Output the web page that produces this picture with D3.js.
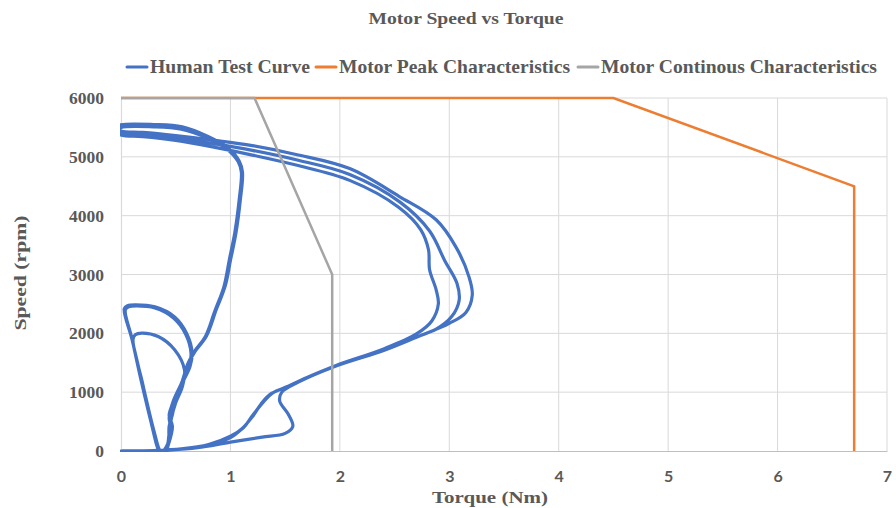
<!DOCTYPE html>
<html><head><meta charset="utf-8">
<script src="https://cdn.jsdelivr.net/npm/d3@7"></script>
<style>body{margin:0;background:#fff}svg{display:block}</style>
</head><body><svg id="chart" width="896" height="508"></svg>
<script>
const chartTitle = "Motor Speed vs Torque";
const xTitle = "Torque (Nm)";
const yTitle = "Speed (rpm)";
const xTicks = [0, 1, 2, 3, 4, 5, 6, 7];
const yTicks = [0, 1000, 2000, 3000, 4000, 5000, 6000];
const seriesNames = ["Human Test Curve", "Motor Peak Characteristics", "Motor Continous Characteristics"];
const seriesColors = ["#4472C4", "#ED7D31", "#A5A5A5"];

const peakCurve = [[0, 6000], [4.5, 6000], [6.7, 4500], [6.7, 0]];
const contCurve = [[0, 6000], [1.22, 6000], [1.93, 3000], [1.93, 0]];

// Human test curve: [torque, speed] in time order
const humanCurve = [
  // cycle 1 (outer)
  [0, 0], [0.2, 0], [0.45, 15], [0.7, 55], [1.0, 150], [1.29, 235], [1.5, 300], [1.57, 420],
  [1.53, 620], [1.45, 850], [1.47, 1000], [1.62, 1170], [1.93, 1420], [2.4, 1710], [2.7, 1935],
  [3.0, 2170], [3.15, 2350], [3.21, 2650], [3.18, 2960], [3.06, 3470], [2.88, 3930], [2.54, 4330],
  [2.09, 4800], [1.6, 5040], [1.2, 5190], [0.86, 5280], [0.5, 5360], [0.2, 5415], [0, 5440],
  [-0.05, 5500], [0, 5545], [0.3, 5550], [0.56, 5510], [0.79, 5350], [0.97, 5160], [1.07, 4950], [1.1, 4750],
  [1.08, 4270], [1.04, 3710], [0.99, 3250], [0.95, 2800], [0.87, 2400], [0.78, 1950], [0.68, 1700],
  [0.62, 1500], [0.57, 1200], [0.5, 900], [0.46, 600], [0.45, 350], [0.42, 80], [0.4, 0], [0.2, 0],
  // cycle 2 (middle)
  [0, 0], [0.3, 5], [0.55, 30], [0.8, 100], [1.0, 230], [1.1, 370], [1.2, 580], [1.28, 800],
  [1.36, 960], [1.5, 1080], [1.7, 1250], [1.95, 1440], [2.4, 1725], [2.72, 1950], [2.88, 2070],
  [3.02, 2280], [3.09, 2560], [3.07, 2850], [2.96, 3230], [2.82, 3740], [2.55, 4230], [2.09, 4700],
  [1.6, 4950], [1.2, 5110], [0.86, 5220], [0.5, 5320], [0.2, 5380], [0, 5405],
  [-0.05, 5470], [0, 5525], [0.3, 5530], [0.56, 5490], [0.8, 5330], [0.98, 5140], [1.08, 4930], [1.11, 4740],
  [1.09, 4260], [1.05, 3700], [1.0, 3240], [0.95, 2790], [0.86, 2390], [0.77, 1940], [0.67, 1690],
  [0.61, 1480], [0.56, 1190], [0.49, 880], [0.44, 610], [0.47, 420], [0.43, 90], [0.41, 0], [0.2, 0],
  // cycle 3 (inner)
  [0, 0], [0.3, 8], [0.55, 35], [0.8, 110], [1.0, 250], [1.12, 400], [1.2, 600], [1.3, 830],
  [1.38, 980], [1.52, 1095], [1.72, 1265], [1.96, 1450], [2.4, 1735], [2.7, 1990], [2.84, 2210],
  [2.9, 2500], [2.88, 2740], [2.82, 3080], [2.81, 3420], [2.74, 3760], [2.54, 4140], [2.09, 4600],
  [1.6, 4860], [1.2, 5030], [0.86, 5160], [0.5, 5280], [0.2, 5345], [0, 5370],
  [-0.05, 5440], [0, 5500], [0.3, 5510], [0.55, 5470], [0.79, 5320], [0.97, 5130], [1.07, 4920], [1.1, 4740],
  [1.08, 4260], [1.04, 3710], [0.99, 3250], [0.94, 2790], [0.86, 2390], [0.77, 1940], [0.67, 1690],
  [0.62, 1480], [0.57, 1190], [0.5, 880], [0.47, 620], [0.44, 420], [0.43, 90], [0.38, 0],
  // left loop (outer, twice)
  [0.36, 0], [0.3, 350], [0.2, 1120], [0.1, 1900], [0.03, 2420], [0.06, 2470], [0.13, 2485],
  [0.31, 2450], [0.49, 2280], [0.6, 2000], [0.65, 1670], [0.63, 1430], [0.56, 1156], [0.49, 870],
  [0.45, 580], [0.45, 357], [0.42, 68], [0.38, 0],
  [0.35, 0], [0.29, 380], [0.19, 1150], [0.1, 1910], [0.04, 2400], [0.07, 2450], [0.14, 2465],
  [0.31, 2430], [0.48, 2260], [0.59, 1990], [0.64, 1660], [0.62, 1420], [0.55, 1140], [0.48, 860],
  [0.44, 560], [0.46, 340], [0.41, 60], [0.38, 0],
  // left loop (inner)
  [0.35, 0], [0.29, 370], [0.2, 1130], [0.11, 1900], [0.13, 1975], [0.19, 2005], [0.34, 1945],
  [0.49, 1720], [0.58, 1380], [0.56, 1090], [0.5, 820], [0.46, 550], [0.44, 300], [0.42, 50],
  [0.4, 0], [0.1, 0], [0, 0]
];

const W = 896, H = 508;
const plot = {left: 121, right: 887, top: 98, bottom: 451};
const svg = d3.select("#chart");
const textColor = "#595959";
const serif = "'Liberation Serif', 'Times New Roman', serif";

const x = d3.scaleLinear().domain([0, 7]).range([plot.left, plot.right]);
const y = d3.scaleLinear().domain([0, 6000]).range([plot.bottom, plot.top]);

svg.append("defs").append("clipPath").attr("id", "clip").append("rect")
  .attr("x", plot.left - 1).attr("y", plot.top - 3).attr("width", plot.right - plot.left + 4)
  .attr("height", plot.bottom - plot.top + 4);

// gridlines
const grid = svg.append("g");
grid.selectAll(".gx").data(xTicks.slice(1)).join("line")
  .attr("x1", d => x(d)).attr("x2", d => x(d)).attr("y1", plot.top).attr("y2", plot.bottom)
  .attr("stroke", "#d9d9d9").attr("stroke-width", 1);
grid.selectAll(".gy").data(yTicks.slice(1)).join("line")
  .attr("x1", plot.left).attr("x2", plot.right).attr("y1", d => y(d)).attr("y2", d => y(d))
  .attr("stroke", "#d9d9d9").attr("stroke-width", 1);

// axes
const xAxis = svg.append("g").attr("transform", `translate(0,${plot.bottom})`)
  .call(d3.axisBottom(x).tickValues(xTicks).tickSize(0).tickPadding(20).tickFormat(d3.format("d")));
xAxis.select(".domain").attr("stroke", "#bfbfbf").attr("stroke-width", 1.2);
xAxis.selectAll("text").attr("fill", textColor).style("font-family", "Lato, 'Open Sans', sans-serif")
  .style("font-weight", "bold").style("font-size", "16px");

const yAxis = svg.append("g").attr("transform", `translate(${plot.left},0)`)
  .call(d3.axisLeft(y).tickValues(yTicks).tickSize(0).tickPadding(17).tickFormat(d3.format("d")));
yAxis.select(".domain").attr("stroke", "#d9d9d9").attr("stroke-width", 1.2);
yAxis.selectAll("text").attr("fill", textColor).style("font-family", serif)
  .style("font-weight", "bold").style("font-size", "17.5px");

// series
const line = d3.line().x(d => x(d[0])).y(d => y(d[1]));
svg.append("path").datum(humanCurve).attr("clip-path", "url(#clip)")
  .attr("d", line.curve(d3.curveCatmullRom.alpha(0.5)))
  .attr("fill", "none").attr("stroke", seriesColors[0]).attr("stroke-width", 3.2)
  .attr("stroke-linejoin", "round").attr("stroke-linecap", "round");
const straight = d3.line().x(d => x(d[0])).y(d => y(d[1]));
svg.append("path").datum(peakCurve).attr("d", straight)
  .attr("fill", "none").attr("stroke", seriesColors[1]).attr("stroke-width", 2.5);
svg.append("path").datum(contCurve).attr("d", straight)
  .attr("fill", "none").attr("stroke", seriesColors[2]).attr("stroke-width", 2.5);

// title
svg.append("text").attr("x", 466).attr("y", 24).attr("text-anchor", "middle")
  .attr("fill", textColor).style("font-family", serif).style("font-weight", "bold")
  .style("font-size", "17px").attr("textLength", 195).attr("lengthAdjust", "spacingAndGlyphs")
  .text(chartTitle);

// legend
const legendX = [127, 316, 578];
const legendW = [160, 231, 276];
const lg = svg.append("g");
seriesNames.forEach((name, i) => {
  lg.append("line").attr("x1", legendX[i]).attr("x2", legendX[i] + 20).attr("y1", 67).attr("y2", 67)
    .attr("stroke", seriesColors[i]).attr("stroke-width", 3).attr("stroke-linecap", "round");
  lg.append("text").attr("x", legendX[i] + 23).attr("y", 73).attr("fill", textColor)
    .style("font-family", serif).style("font-weight", "bold").style("font-size", "19px")
    .attr("textLength", legendW[i]).attr("lengthAdjust", "spacingAndGlyphs").text(name);
});

// axis titles
svg.append("text").attr("x", 490).attr("y", 503).attr("text-anchor", "middle")
  .attr("fill", textColor).style("font-family", serif).style("font-weight", "bold")
  .style("font-size", "17px").attr("textLength", 116).attr("lengthAdjust", "spacingAndGlyphs").text(xTitle);
svg.append("text").attr("transform", "translate(26,273) rotate(-90)").attr("text-anchor", "middle")
  .attr("fill", textColor).style("font-family", serif).style("font-weight", "bold")
  .style("font-size", "17px").attr("textLength", 115).attr("lengthAdjust", "spacingAndGlyphs").text(yTitle);
</script></body></html>
